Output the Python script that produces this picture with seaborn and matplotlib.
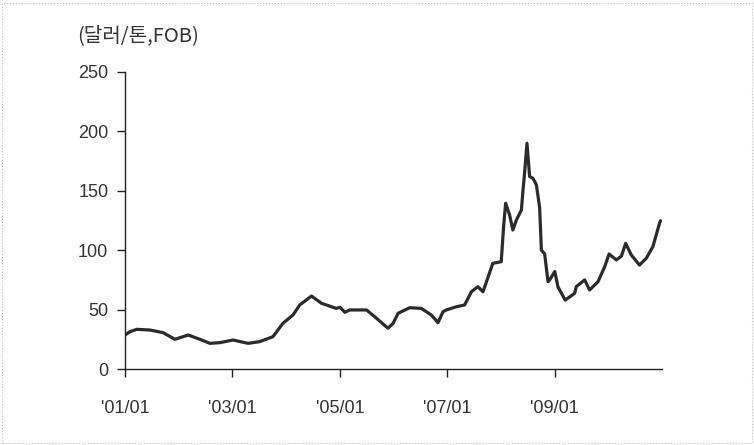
import numpy as np
import pandas as pd
import matplotlib
matplotlib.use("Agg")
import matplotlib.pyplot as plt
import matplotlib.dates as mdates
from matplotlib.patches import Rectangle
import seaborn as sns

# (dollars per ton, FOB)
dates = [
    "2001-01-01", "2001-02-04", "2001-03-21", "2001-06-20", "2001-09-17", "2001-12-06",
    "2002-03-07", "2002-05-25", "2002-08-01", "2002-10-08",
    "2003-01-06", "2003-04-17", "2003-07-05", "2003-10-04", "2003-12-11",
    "2004-02-17", "2004-04-03", "2004-06-22", "2004-08-29", "2004-12-08",
    "2005-01-01", "2005-02-04", "2005-03-09", "2005-07-01", "2005-09-07", "2005-11-24",
    "2005-12-29", "2006-02-01", "2006-04-21", "2006-07-09", "2006-09-15", "2006-10-30",
    "2006-12-03", "2006-12-26", "2007-03-04", "2007-04-29", "2007-06-14", "2007-07-28",
    "2007-09-01", "2007-11-07", "2008-01-03", "2008-01-19", "2008-02-02", "2008-02-29",
    "2008-03-22", "2008-04-15", "2008-05-19", "2008-05-30", "2008-06-07", "2008-06-26",
    "2008-07-14", "2008-08-06", "2008-08-29", "2008-09-20", "2008-10-02", "2008-10-24",
    "2008-11-16", "2008-11-27", "2009-01-01", "2009-01-23", "2009-03-13", "2009-05-16",
    "2009-05-27", "2009-07-23", "2009-08-26", "2009-10-22", "2009-12-06", "2010-01-05",
    "2010-02-24", "2010-03-30", "2010-04-28", "2010-06-05", "2010-07-31", "2010-09-15",
    "2010-10-30", "2010-12-14", "2010-12-21",
]
prices = [
    28.6, 31.4, 33.4, 32.8, 30.6, 25.0,
    28.6, 25.0, 21.6, 22.2,
    24.4, 21.6, 23.0, 27.2, 38.5,
    45.4, 53.9, 61.4, 55.3, 51.0,
    52.0, 47.7, 49.7, 49.7, 42.7, 34.3,
    38.5, 46.9, 51.6, 51.0, 45.4, 39.0,
    48.2, 49.7, 52.4, 53.9, 65.0, 69.3,
    65.0, 89.0, 90.3, 119.8, 139.5, 129.6,
    117.0, 125.4, 133.8, 150.7, 161.0, 190.0,
    162.0, 160.5, 155.0, 136.0, 100.0, 97.0,
    73.5, 75.0, 82.0, 69.0, 58.0, 63.7,
    69.3, 75.0, 66.5, 73.5, 86.0, 96.8,
    91.8, 95.0, 105.8, 96.0, 87.5, 93.2,
    103.0, 122.6, 124.8,
]

tick_dates = ["2001-01-01", "2003-01-01", "2005-01-01", "2007-01-01", "2009-01-01"]
tick_labels = ["'01/01", "'03/01", "'05/01", "'07/01", "'09/01"]
y_ticks = [0, 50, 100, 150, 200, 250]
unit_label = "(달러/톤,FOB)"

df = pd.DataFrame({"date": pd.to_datetime(dates), "price": prices})

sns.set_style("white")
plt.rcParams["font.family"] = ["Liberation Sans", "Noto Sans CJK KR", "DejaVu Sans"]

fig = plt.figure(figsize=(7.54, 4.45), dpi=100)
ax = fig.add_axes([125 / 754, 1 - 369 / 445, 537 / 754, 297 / 445])

sns.lineplot(data=df, x="date", y="price", ax=ax, color="#2b2b2b", linewidth=2.3)

ax.set_xlim(pd.Timestamp("2001-01-01"), pd.Timestamp("2010-12-31"))
ax.set_ylim(0, 250)
ax.set_yticks(y_ticks)
ax.set_yticklabels([str(v) for v in y_ticks])
ax.set_xticks(mdates.date2num(pd.to_datetime(tick_dates)))
ax.set_xticklabels(tick_labels)
ax.set_xlabel("")
ax.set_ylabel("")

for side in ["top", "right"]:
    ax.spines[side].set_visible(False)
for side in ["left", "bottom"]:
    ax.spines[side].set_color("#222222")
    ax.spines[side].set_linewidth(1.0)

ax.tick_params(axis="y", direction="out", length=6, width=1, color="#222222",
               labelsize=13, labelcolor="#333333", pad=6, left=True)
ax.tick_params(axis="x", direction="out", length=6, width=1, color="#222222",
               labelsize=13, labelcolor="#333333", pad=16, bottom=True)

fig.text(77 / 754, 1 - 36 / 445, unit_label, fontsize=14.5, color="#333333",
         ha="left", va="center", family=["Noto Sans CJK KR", "DejaVu Sans"])

fig.patches.append(Rectangle((0.003, 0.004), 0.994, 0.99, transform=fig.transFigure,
                             fill=False, edgecolor="#bbbbbb", linewidth=0.8,
                             linestyle=":"))

fig.savefig("out.png", dpi=100)
